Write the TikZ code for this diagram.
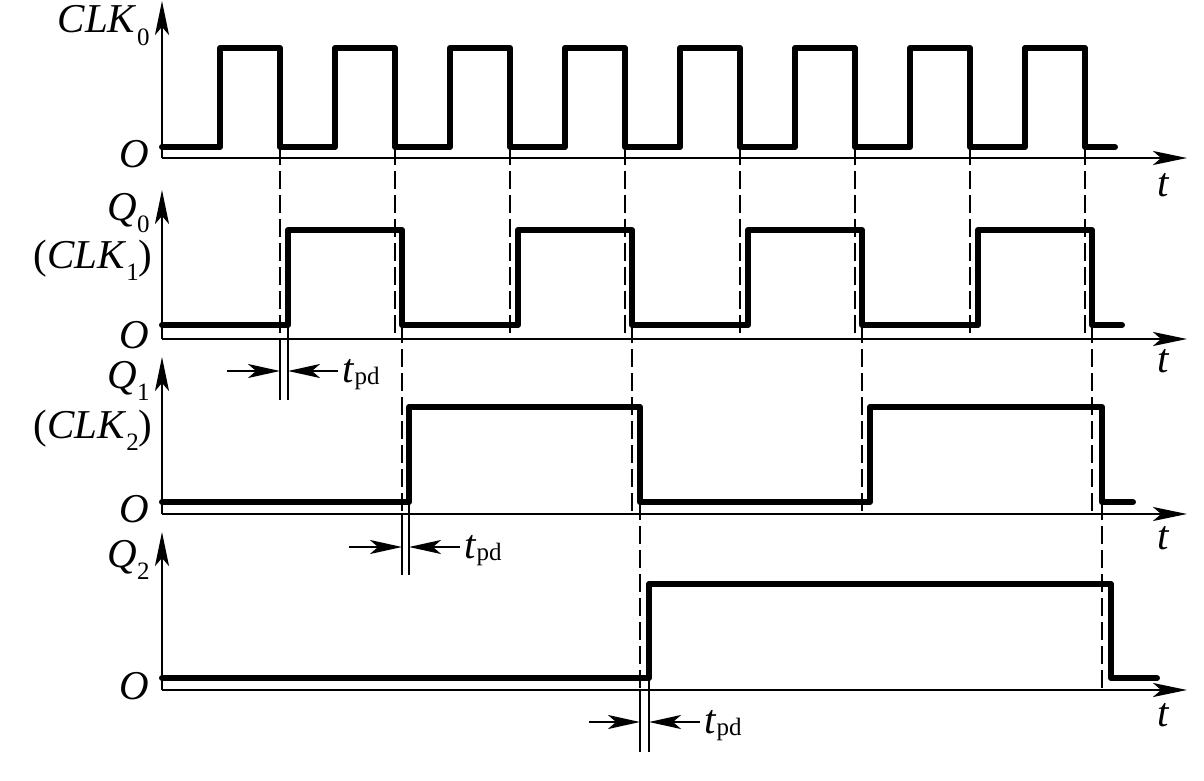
\documentclass[tikz,border=0pt]{standalone}
\usepackage{fontspec}
\setmainfont{Liberation Serif}
\usetikzlibrary{arrows.meta}
\newcommand{\sigsub}[1]{\raisebox{-6pt}{\fontsize{12.5}{12.5}\selectfont #1}}
\newcommand{\tpdlabel}{\textit{t}\raisebox{-1pt}{\fontsize{12.5}{12.5}\selectfont pd}}
\tikzset{
  axisline/.style={line width=1.3pt,-{Stealth[length=17pt,width=7pt,inset=4pt]}},
  sig/.style={line width=3pt,line join=round,line cap=round},
  guide/.style={line width=1.2pt,dash pattern=on 9pt off 3pt},
  tpdline/.style={line width=1.1pt},
  tarrow/.style={line width=1.1pt,-{Stealth[length=16pt,width=7pt,inset=4pt]}},
  lab/.style={inner sep=0pt,font=\fontsize{20.5}{20.5}\selectfont},
}
\begin{document}
\begin{tikzpicture}[x=0.5pt,y=-0.5pt]
\useasboundingbox (0,0) rectangle (1204,781);
% axes
\foreach \ax/\tip in {158/1,339/190,514/357,690/532}{
  \draw[axisline] (162,\ax) -- (162,\tip);
  \draw[axisline] (162,\ax) -- (1187,\ax);
}
% dashed guides
\foreach \x in {280,395,510,625,740,855,970,1085}{
  \draw[guide] (\x,147) -- (\x,339);
}
\foreach \x in {402,632,862,1092}{
  \draw[guide] (\x,325) -- (\x,514);
}
\foreach \x in {640,1102}{
  \draw[guide] (\x,502) -- (\x,690);
}
% CLK0
\draw[sig] (162,147)
  -- (220,147) -- (220,48) -- (280,48) -- (280,147)
  -- (335,147) -- (335,48) -- (395,48) -- (395,147)
  -- (450,147) -- (450,48) -- (510,48) -- (510,147)
  -- (565,147) -- (565,48) -- (625,48) -- (625,147)
  -- (680,147) -- (680,48) -- (740,48) -- (740,147)
  -- (795,147) -- (795,48) -- (855,48) -- (855,147)
  -- (910,147) -- (910,48) -- (970,48) -- (970,147)
  -- (1025,147) -- (1025,48) -- (1085,48) -- (1085,147) -- (1115,147);
% Q0
\draw[sig] (162,325)
  -- (288,325) -- (288,230) -- (402,230) -- (402,325)
  -- (518,325) -- (518,230) -- (632,230) -- (632,325)
  -- (748,325) -- (748,230) -- (862,230) -- (862,325)
  -- (978,325) -- (978,230) -- (1092,230) -- (1092,325) -- (1122,325);
% Q1
\draw[sig] (162,502)
  -- (409,502) -- (409,407) -- (640,407) -- (640,502)
  -- (870,502) -- (870,407) -- (1102,407) -- (1102,502) -- (1133,502);
% Q2
\draw[sig] (162,678)
  -- (649,678) -- (649,584) -- (1111,584) -- (1111,678) -- (1157,678);
% tpd markers
\draw[tpdline] (280,339) -- (280,400);
\draw[tpdline] (288,325) -- (288,400);
\coordinate (m1l) at (227,371); \coordinate (m1a) at (280,371);
\coordinate (m1r) at (338,371); \coordinate (m1b) at (288,371);
\draw[tarrow] (m1l) -- (m1a);
\draw[tarrow] (m1r) -- (m1b);
\node[lab,anchor=base west] (tpd1) at (342,382) {\tpdlabel};

\draw[tpdline] (402,514) -- (402,575);
\draw[tpdline] (409,502) -- (409,575);
\coordinate (m2l) at (349,547); \coordinate (m2a) at (402,547);
\coordinate (m2r) at (460,547); \coordinate (m2b) at (409,547);
\draw[tarrow] (m2l) -- (m2a);
\draw[tarrow] (m2r) -- (m2b);
\node[lab,anchor=base west] (tpd2) at (464,558) {\tpdlabel};

\draw[tpdline] (640,690) -- (640,752);
\draw[tpdline] (649,678) -- (649,752);
\coordinate (m3l) at (589,722); \coordinate (m3a) at (640,722);
\coordinate (m3r) at (700,722); \coordinate (m3b) at (649,722);
\draw[tarrow] (m3l) -- (m3a);
\draw[tarrow] (m3r) -- (m3b);
\node[lab,anchor=base west] (tpd3) at (704,733) {\tpdlabel};

% labels
\node[lab,anchor=base east] (clk0) at (150,33) {\textit{CLK}\sigsub{0}};
\node[lab,anchor=base east] (o1) at (150,167) {\textit{O}};
\node[lab,anchor=base east] (q0) at (150,220) {\textit{Q}\sigsub{0}};
\node[lab,anchor=base east] (clk1) at (153,268) {(\textit{CLK}\sigsub{1})};
\node[lab,anchor=base east] (o2) at (150,348) {\textit{O}};
\node[lab,anchor=base east] (q1) at (150,388) {\textit{Q}\sigsub{1}};
\node[lab,anchor=base east] (clk2) at (153,438) {(\textit{CLK}\sigsub{2})};
\node[lab,anchor=base east] (o3) at (150,522) {\textit{O}};
\node[lab,anchor=base east] (q2) at (150,567) {\textit{Q}\sigsub{2}};
\node[lab,anchor=base east] (o4) at (150,699) {\textit{O}};
\node[lab,anchor=base west] (t1) at (1157,196) {\textit{t}};
\node[lab,anchor=base west] (t2) at (1157,372) {\textit{t}};
\node[lab,anchor=base west] (t3) at (1157,549) {\textit{t}};
\node[lab,anchor=base west] (t4) at (1157,726) {\textit{t}};
\end{tikzpicture}
\end{document}
